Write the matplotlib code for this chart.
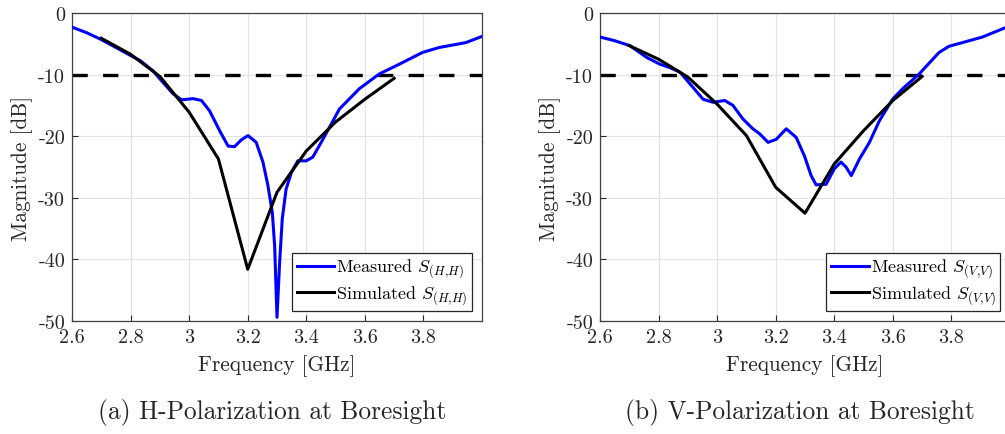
import matplotlib
matplotlib.use("Agg")
import matplotlib.pyplot as plt

plt.rcParams["font.family"] = ["cmr10", "DejaVu Serif"]
plt.rcParams["mathtext.fontset"] = "cm"
plt.rcParams["axes.unicode_minus"] = False
plt.rcParams["lines.scale_dashes"] = False

# Frequency sweep of the measured H-polarization return loss (GHz, dB)
meas_h_freq = [2.600, 2.650, 2.695, 2.750, 2.800, 2.832, 2.877, 2.900, 2.945, 2.974,
               3.013, 3.042, 3.070, 3.104, 3.133, 3.155, 3.178, 3.201, 3.229, 3.252,
               3.269, 3.284, 3.292, 3.300, 3.309, 3.318, 3.331, 3.349, 3.371, 3.400,
               3.422, 3.445, 3.473, 3.513, 3.581, 3.649, 3.718, 3.797, 3.854, 3.900,
               3.945, 4.000]
meas_h_db = [-2.3, -3.2, -4.2, -5.6, -6.9, -7.7, -9.4, -10.7, -13.1, -14.1,
             -13.9, -14.2, -15.9, -19.1, -21.6, -21.7, -20.6, -19.9, -21.0, -24.2,
             -28.0, -32.4, -37.8, -49.4, -40.5, -33.4, -28.6, -25.9, -24.0, -24.0,
             -23.4, -21.5, -19.1, -15.6, -12.3, -9.9, -8.3, -6.4, -5.6, -5.2,
             -4.8, -3.8]

# Simulated H-polarization response
sim_h_freq = [2.7, 2.8, 2.9, 3.0, 3.1, 3.2, 3.3, 3.4, 3.5, 3.6, 3.7]
sim_h_db = [-4.1, -6.7, -10.3, -16.1, -23.7, -41.6, -29.1, -22.4, -17.7, -14.0, -10.6]

# Measured V-polarization return loss
meas_v_freq = [2.600, 2.650, 2.702, 2.759, 2.804, 2.840, 2.873, 2.918, 2.952, 2.986,
               3.026, 3.054, 3.088, 3.122, 3.145, 3.174, 3.202, 3.236, 3.270, 3.298,
               3.321, 3.338, 3.372, 3.400, 3.423, 3.440, 3.458, 3.486, 3.520, 3.554,
               3.599, 3.633, 3.690, 3.713, 3.758, 3.792, 3.838, 3.906, 3.973, 4.000]
meas_v_db = [-3.9, -4.5, -5.3, -7.2, -8.3, -8.9, -9.6, -12.1, -14.0, -14.5,
             -14.2, -15.0, -17.2, -18.8, -19.6, -21.0, -20.5, -18.8, -20.2, -23.2,
             -26.4, -27.9, -27.8, -25.3, -24.2, -25.0, -26.4, -23.7, -21.0, -17.5,
             -14.0, -12.3, -9.9, -8.7, -6.4, -5.4, -4.8, -3.9, -2.6, -2.1]

# Simulated V-polarization response
sim_v_freq = [2.7, 2.8, 2.9, 3.0, 3.1, 3.2, 3.3, 3.4, 3.5, 3.6, 3.7]
sim_v_db = [-5.3, -7.5, -10.4, -14.8, -19.9, -28.3, -32.5, -24.5, -19.1, -14.2, -10.3]

threshold_db = -10
x_ticks = [2.6, 2.8, 3.0, 3.2, 3.4, 3.6, 3.8]
x_tick_labels = ["2.6", "2.8", "3", "3.2", "3.4", "3.6", "3.8"]
y_ticks = [-50, -40, -30, -20, -10, 0]
y_tick_labels = ["-50", "-40", "-30", "-20", "-10", "0"]

panels = [
    (meas_h_freq, meas_h_db, sim_h_freq, sim_h_db,
     r"Measured $S_{(H{,}H)}$", r"Simulated $S_{(H{,}H)}$",
     "(a) H-Polarization at Boresight"),
    (meas_v_freq, meas_v_db, sim_v_freq, sim_v_db,
     r"Measured $S_{(V{,}V)}$", r"Simulated $S_{(V{,}V)}$",
     "(b) V-Polarization at Boresight"),
]

W, H = 1005, 435
fig = plt.figure(figsize=(W / 100, H / 100), dpi=100)
ax_left_px = [72, 600]
ax_w_px, ax_top_px, ax_bot_px = 410, 14, 322
text_col = "#262626"

for i, (mf, md, sf, sd, lab_m, lab_s, caption) in enumerate(panels):
    x0 = ax_left_px[i]
    ax = fig.add_axes([x0 / W, (H - ax_bot_px) / H, ax_w_px / W,
                       (ax_bot_px - ax_top_px) / H])
    ax.plot(mf, md, color=(0, 0, 1), lw=2.2, label=lab_m, zorder=3)
    ax.plot(sf, sd, color="black", lw=2.2, label=lab_s, zorder=4)
    ax.axhline(threshold_db, color="black", lw=2.4, dashes=(11, 11), zorder=2)

    ax.set_xlim(2.6, 4.0)
    ax.set_ylim(-50, 0)
    ax.set_xticks(x_ticks)
    ax.set_xticklabels(x_tick_labels)
    ax.set_yticks(y_ticks)
    ax.set_yticklabels(y_tick_labels)
    ax.tick_params(direction="in", length=4, width=0.8, colors=text_col,
                   labelsize=14.5, top=False, right=False, pad=5)
    ax.grid(True, color="#e3e3e3", lw=0.8)
    ax.set_axisbelow(True)
    for s in ax.spines.values():
        s.set_color("#404040")
        s.set_linewidth(0.9)

    ax.set_xlabel("Frequency [GHz]", fontsize=15.3, color=text_col, labelpad=6)
    ax.set_ylabel("Magnitude [dB]", fontsize=15.3, color=text_col, labelpad=4)

    leg = ax.legend(loc="lower right", fontsize=13, frameon=True, fancybox=False,
                    framealpha=1, edgecolor="#262626", borderaxespad=0.55,
                    handlelength=2.1, handletextpad=0.1, borderpad=0.25,
                    labelspacing=0.15)
    leg.get_frame().set_linewidth(0.9)

    fig.text((x0 + 200) / W, (H - 413) / H, caption, ha="center", va="center",
             fontsize=18.3, color=text_col)

fig.savefig("out.png", dpi=100)
